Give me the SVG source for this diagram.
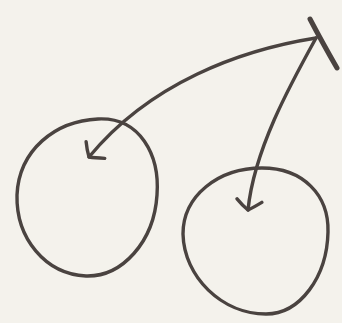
<svg xmlns="http://www.w3.org/2000/svg" width="342" height="323" viewBox="0 0 342 323">
<defs>
<style>
.ink{fill:none;stroke:#4a4340;stroke-width:3.4;stroke-linecap:round;stroke-linejoin:round}
.stem{stroke-width:5}
</style>
<marker id="head" markerUnits="userSpaceOnUse" markerWidth="30" markerHeight="30" viewBox="-15 -15 30 30" refX="0" refY="0" orient="auto">
<path d="M -9,-13 Q -3,-5 0,0 Q -4,6 -10,12" fill="none" stroke="#4a4340" stroke-width="3.4" stroke-linecap="round" stroke-linejoin="round"/>
</marker>
</defs>
<rect width="342" height="323" fill="#f4f2ec"/>
<g id="stem">
<path class="ink stem" d="M 310,19 Q 322,42 337,68"/>
</g>
<g id="cherry-left">
<path class="ink" d="M 98,119 C 140,117 160,155 157,195 C 154,242 122,277 86,276 C 45,274 16,238 17,195 C 19,150 55,121 98,119 Z"/>
</g>
<g id="cherry-right">
<path class="ink" d="M 262,168 C 303,168 329,195 328,232 C 327,277 300,314 266,314 C 222,314 184,277 183,234 C 183,196 218,168 262,168 Z"/>
</g>
<g id="connectors">
<path class="ink" d="M 316,38 C 240,50 150,83 89,157" marker-end="url(#head)"/>
<path class="ink" d="M 316,38 C 290,85 254,150 248,210" marker-end="url(#head)"/>
</g>
</svg>
